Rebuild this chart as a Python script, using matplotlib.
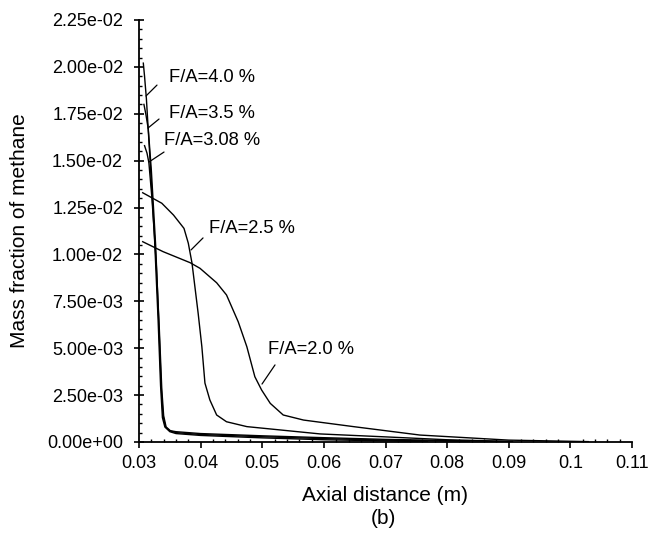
import numpy as np
import matplotlib
matplotlib.use("Agg")
import matplotlib.pyplot as plt
from matplotlib.ticker import MultipleLocator, AutoMinorLocator, FuncFormatter

plt.rcParams['font.family'] = ['Liberation Sans', 'DejaVu Sans']

# axial distance (m) / methane mass fraction
x_40 = [0.0307, 0.0309, 0.0312, 0.0318, 0.0325, 0.0331, 0.0335, 0.0338, 0.0342, 0.0350,
        0.0360, 0.0400, 0.0500, 0.0600, 0.0700, 0.0768]
y_40 = [0.0202, 0.0195, 0.0183, 0.0150, 0.0110, 0.0065, 0.0030, 0.0013, 0.0008, 0.00055,
        0.00045, 0.00035, 0.00022, 0.00012, 0.00006, 0.00002]

x_35 = [0.0308, 0.0311, 0.0315, 0.0320, 0.0327, 0.0332, 0.0336, 0.0339, 0.0343, 0.0350,
        0.0360, 0.0400, 0.0500, 0.0600, 0.0700, 0.0836]
y_35 = [0.0180, 0.0175, 0.0167, 0.0145, 0.0105, 0.0065, 0.0030, 0.0014, 0.0008, 0.0006,
        0.0005, 0.0004, 0.00028, 0.00018, 0.00010, 0.00003]

x_308 = [0.0309, 0.0313, 0.0316, 0.0321, 0.0328, 0.0333, 0.0337, 0.0340, 0.0344, 0.0351,
         0.0360, 0.0400, 0.0500, 0.0600, 0.0700, 0.0800, 0.0906]
y_308 = [0.0158, 0.0154, 0.0149, 0.0130, 0.0095, 0.0060, 0.0028, 0.0014, 0.0008, 0.0006,
         0.00055, 0.00045, 0.00033, 0.00023, 0.00014, 0.00008, 0.00002]

x_25 = [0.0306, 0.0337, 0.0356, 0.0373, 0.0380, 0.0386, 0.0396, 0.0402, 0.0407, 0.0415,
        0.0426, 0.0442, 0.0475, 0.0594, 0.0702, 0.0800, 0.0906]
y_25 = [0.01329, 0.01273, 0.01210, 0.01139, 0.0106, 0.00954, 0.00686, 0.00508, 0.00314, 0.00224,
        0.00144, 0.00108, 0.00082, 0.00043, 0.00027, 0.00012, 0.00003]

x_20 = [0.0306, 0.0339, 0.0383, 0.0399, 0.0426, 0.0442, 0.0461, 0.0475, 0.0488, 0.0499,
        0.0513, 0.0534, 0.0567, 0.0648, 0.0756, 0.0900, 0.1029]
y_20 = [0.01068, 0.01015, 0.00956, 0.00926, 0.00849, 0.00784, 0.00641, 0.00508, 0.00348, 0.00277,
        0.00206, 0.00144, 0.00117, 0.00082, 0.00037, 0.00010, 0.00002]

series = [(x_40, y_40), (x_35, y_35), (x_308, y_308), (x_25, y_25), (x_20, y_20)]
labels = ['F/A=4.0 %', 'F/A=3.5 %', 'F/A=3.08 %', 'F/A=2.5 %', 'F/A=2.0 %']

# label text (left, centre) and leader line ends, in data units
label_pos = [(0.03487, 0.01946), (0.03487, 0.01754), (0.03406, 0.01610),
             (0.04136, 0.01136), (0.05093, 0.00491)]
leader_from = [(0.03292, 0.01903), (0.03325, 0.01722), (0.03406, 0.01546),
               (0.04039, 0.01088), (0.05207, 0.00411)]
leader_to = [(0.03114, 0.01845), (0.03146, 0.01674), (0.03162, 0.01493),
             (0.03844, 0.01024), (0.04996, 0.00309)]

fig = plt.figure(figsize=(6.54, 5.35), dpi=100)
ax = fig.add_axes([139 / 654, 1 - 442 / 535, 493 / 654, 422 / 535])

for (xs, ys) in series:
    ax.plot(xs, ys, color='black', lw=1.0)

for lab, p, a, b in zip(labels, label_pos, leader_from, leader_to):
    ax.text(p[0], p[1], lab, fontsize=13.2, ha='left', va='center')
    ax.annotate('', xy=b, xytext=a,
                arrowprops=dict(arrowstyle='-', color='black', lw=0.9,
                                shrinkA=0, shrinkB=0))

ax.set_xlim(0.03, 0.11)
ax.set_ylim(0, 0.0225)
ax.spines['top'].set_visible(False)
ax.spines['right'].set_visible(False)
ax.spines['left'].set_linewidth(1.3)
ax.spines['bottom'].set_linewidth(1.3)

ax.xaxis.set_major_locator(MultipleLocator(0.01))
ax.xaxis.set_minor_locator(AutoMinorLocator(5))
ax.yaxis.set_major_locator(MultipleLocator(0.0025))
ax.yaxis.set_minor_locator(AutoMinorLocator(5))
ax.xaxis.set_major_formatter(FuncFormatter(lambda v, p: ('%.2f' % v).rstrip('0')))
ax.yaxis.set_major_formatter(FuncFormatter(lambda v, p: '%.2e' % v))

ax.tick_params(axis='x', which='major', direction='out', length=4, width=1.2,
               labelsize=13, pad=5)
ax.tick_params(axis='x', which='minor', direction='in', length=2.5, width=1.0)
ax.tick_params(axis='y', which='major', direction='inout', length=7, width=1.2,
               labelsize=13, pad=8)
ax.tick_params(axis='y', which='minor', direction='in', length=2.5, width=1.0)

ax.set_xlabel('Axial distance (m)', fontsize=15)
ax.xaxis.set_label_coords(0.5, -0.105)
ax.set_ylabel('Mass fraction of methane', fontsize=15)
ax.yaxis.set_label_coords(-0.223, 0.5)

fig.text(383 / 654, 1 - 519 / 535, '(b)', fontsize=15, ha='center', va='center')

plt.savefig('out.png', dpi=100)
plt.close()
